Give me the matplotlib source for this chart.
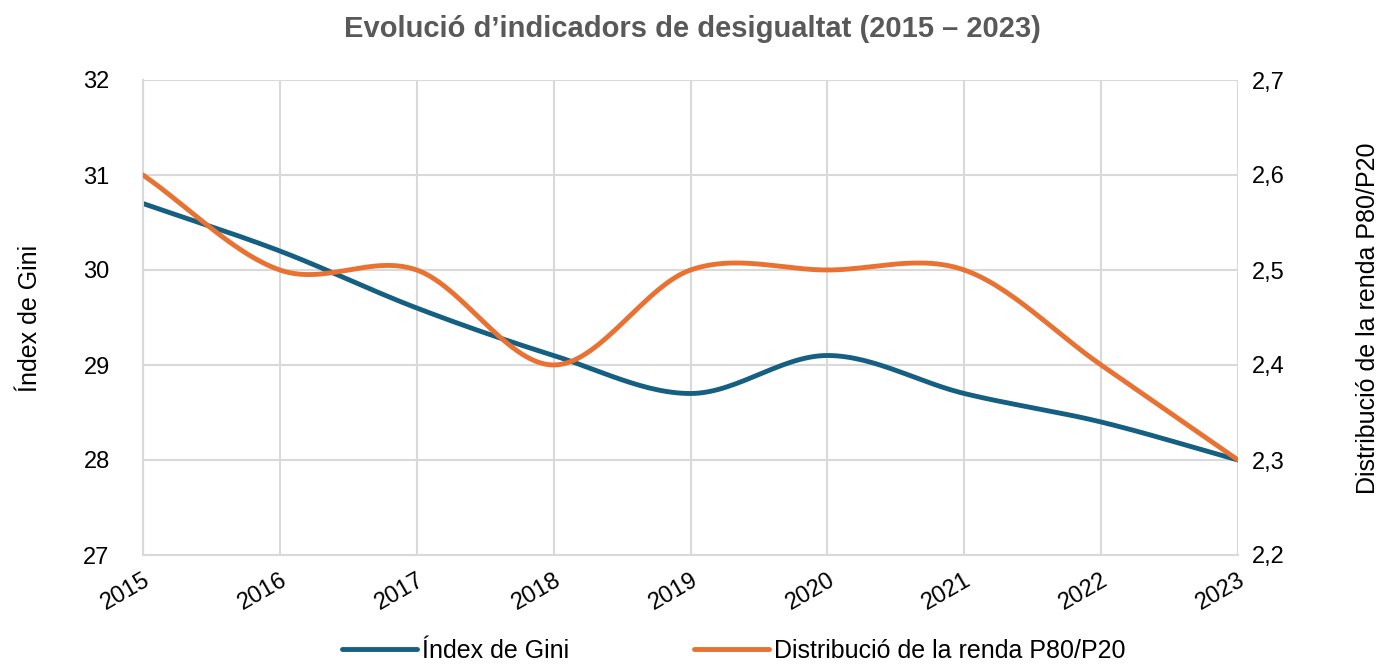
import numpy as np
import matplotlib
matplotlib.use("Agg")
import matplotlib.pyplot as plt
from matplotlib.ticker import FuncFormatter

years = [2015, 2016, 2017, 2018, 2019, 2020, 2021, 2022, 2023]
gini = [30.7, 30.2, 29.6, 29.1, 28.7, 29.1, 28.7, 28.4, 28.0]
p80_p20 = [2.6, 2.5, 2.5, 2.4, 2.5, 2.5, 2.5, 2.4, 2.3]

BLUE = "#156082"
ORANGE = "#E97132"
GRID = "#D9D9D9"

plt.rcParams['font.family'] = ['Liberation Sans', 'DejaVu Sans']


def smooth(x, y, n=30):
    # catmull-rom style curve, like Excel's smoothed line
    x = np.asarray(x, float)
    y = np.asarray(y, float)
    px = np.concatenate([[2 * x[0] - x[1]], x, [2 * x[-1] - x[-2]]])
    py = np.concatenate([[2 * y[0] - y[1]], y, [2 * y[-1] - y[-2]]])
    xs, ys = [], []
    for i in range(1, len(px) - 2):
        t = np.linspace(0, 1, n, endpoint=False)
        for arr, out in ((px, xs), (py, ys)):
            p0, p1, p2, p3 = arr[i - 1], arr[i], arr[i + 1], arr[i + 2]
            out.extend(0.5 * ((2 * p1) + (-p0 + p2) * t
                              + (2 * p0 - 5 * p1 + 4 * p2 - p3) * t ** 2
                              + (-p0 + 3 * p1 - 3 * p2 + p3) * t ** 3))
    xs.append(x[-1])
    ys.append(y[-1])
    return np.array(xs), np.array(ys)


fig = plt.figure(figsize=(13.84, 6.67), dpi=100)
ax = fig.add_axes([143 / 1384, 1 - 555 / 667, (1238 - 143) / 1384, (555 - 80) / 667])
ax2 = ax.twinx()

gx, gy = smooth(years, gini)
px, py = smooth(years, p80_p20)
l1, = ax.plot(gx, gy, color=BLUE, lw=3.5, solid_capstyle='round', label="Índex de Gini")
l2, = ax2.plot(px, py, color=ORANGE, lw=3.5, solid_capstyle='round',
               label="Distribució de la renda P80/P20")

ax.set_xlim(2015, 2023)
ax.set_ylim(27, 32)
ax2.set_ylim(2.2, 2.7)
ax.set_xticks(years)
ax.set_xticklabels([str(y) for y in years], rotation=30, ha='right', rotation_mode='anchor')
ax.set_yticks(range(27, 33))
ax2.set_yticks([2.2, 2.3, 2.4, 2.5, 2.6, 2.7])
ax2.yaxis.set_major_formatter(FuncFormatter(lambda v, p: f"{v:.1f}".replace('.', ',')))

ax.grid(True, color=GRID, lw=1.5)
ax.set_axisbelow(True)
for a in (ax, ax2):
    for s in a.spines.values():
        s.set_visible(False)
    a.tick_params(length=0, labelsize=17, colors="#000000")
ax.spines['left'].set_visible(True)
ax.spines['left'].set_color(GRID)
ax.spines['left'].set_linewidth(1.5)
ax.spines['bottom'].set_visible(True)
ax.spines['bottom'].set_color(GRID)
ax.spines['bottom'].set_linewidth(1.5)
ax.tick_params(axis='y', pad=24)
ax.tick_params(axis='x', pad=10)
ax2.tick_params(axis='y', pad=10)

fig.text(30 / 1384, 1 - 318 / 667, "Índex de Gini", fontsize=18, rotation=90,
         ha='center', va='center')
fig.text(1368 / 1384, 1 - 318 / 667, "Distribució de la renda P80/P20", fontsize=18,
         rotation=90, ha='center', va='center')

fig.suptitle("Evolució d’indicadors de desigualtat (2015 – 2023)", y=0.978,
             fontsize=21, fontweight='bold', color="#595959")

fig.legend(handles=[l1, l2], loc='lower center', bbox_to_anchor=(0.53, -0.028), ncol=2,
           frameon=False, fontsize=18, handlelength=3.0, handletextpad=0.2, columnspacing=5)

fig.savefig("out.png", dpi=100)
